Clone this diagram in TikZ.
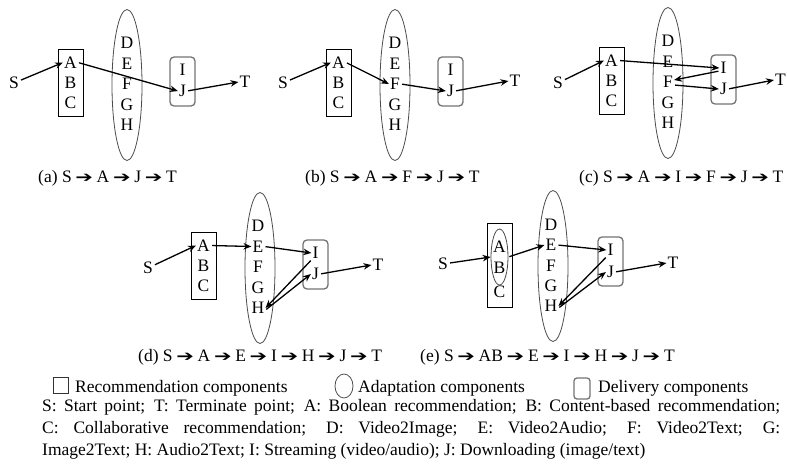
\documentclass[tikz,border=0pt]{standalone}
\usepackage{fontspec}
\setmainfont{Liberation Serif}
\newfontfamily\timesfont{Liberation Serif}
\newfontfamily\dingfont{DejaVu Sans}
\usetikzlibrary{shapes.geometric,arrows.meta}
\newcommand\patharrow{\makebox[25pt]{\dingfont\fontsize{15}{15}\selectfont\scalebox{1.4}[1]{➔}}}
\tikzset{
  lbl/.style={inner sep=1pt, font=\timesfont\fontsize{17.5}{20}\selectfont},
  captxt/.style={inner sep=0pt, anchor=base west, font=\timesfont\fontsize{17.5}{20}\selectfont},
  recbox/.style={draw=black, line width=0.8pt, minimum width=25pt, minimum height=67pt, inner sep=0pt},
  adabox/.style={ellipse, draw=black!70, line width=0.8pt, minimum width=30pt, minimum height=151pt, inner sep=0pt},
  delbox/.style={draw=black!55, line width=1.3pt, rounded corners=4pt, minimum width=25pt, minimum height=49pt, inner sep=0pt},
  flow/.style={-{Stealth[length=8pt,width=6.5pt]}, line width=1.3pt, shorten <=1pt}
}
\begin{document}
\begin{tikzpicture}[x=1pt, y=-1pt]
    \useasboundingbox (0,0) rectangle (787,464);
    % (a)
    \node[recbox] (a-rec) at (70.5,82.5) {};
    \node[adabox] (a-ada) at (127,85) {};
    \node[delbox] (a-del) at (182.5,81.5) {};
    \node[lbl] (a-S) at (14,83) {S};
    \node[lbl] (a-A) at (70.5,62.5) {A};
    \node[lbl] (a-B) at (70.5,82.5) {B};
    \node[lbl] (a-C) at (70.5,102.5) {C};
    \node[lbl] (a-D) at (127,43) {D};
    \node[lbl] (a-E) at (127,63.5) {E};
    \node[lbl] (a-F) at (127,84) {F};
    \node[lbl] (a-G) at (127,104.5) {G};
    \node[lbl] (a-H) at (127,125) {H};
    \node[lbl] (a-I) at (182.5,70) {I};
    \node[lbl] (a-J) at (182.5,91) {J};
    \node[lbl] (a-T) at (245,82) {T};
    \draw[flow] (a-S) -- (a-A.west);
    \draw[flow] (a-A.east) -- (a-J.west);
    \draw[flow] (a-J.east) -- (a-T.west);
    \node[captxt] (a-cap) at (38,182) {(a) S\patharrow A\patharrow J\patharrow T};
    % (b)
    \begin{scope}[shift={(268,0)}]
    \node[recbox] (b-rec) at (70.5,82.5) {};
    \node[adabox] (b-ada) at (127,85) {};
    \node[delbox] (b-del) at (182.5,81.5) {};
    \node[lbl] (b-S) at (15,83) {S};
    \node[lbl] (b-A) at (70.5,62.5) {A};
    \node[lbl] (b-B) at (70.5,82.5) {B};
    \node[lbl] (b-C) at (70.5,102.5) {C};
    \node[lbl] (b-D) at (127,43) {D};
    \node[lbl] (b-E) at (127,63.5) {E};
    \node[lbl] (b-F) at (127,84) {F};
    \node[lbl] (b-G) at (127,104.5) {G};
    \node[lbl] (b-H) at (127,125) {H};
    \node[lbl] (b-I) at (182.5,70) {I};
    \node[lbl] (b-J) at (182.5,91) {J};
    \node[lbl] (b-T) at (247,81) {T};
    \draw[flow] (b-S) -- (b-A.west);
    \draw[flow] (b-A.east) -- (b-F.west);
    \draw[flow] (b-F.east) -- (b-J.west);
    \draw[flow] (b-J.east) -- (b-T.west);
    \end{scope}
    \node[captxt] (b-cap) at (305,182) {(b) S\patharrow A\patharrow F\patharrow J\patharrow T};
    % (c)
    \begin{scope}[shift={(541,-2)}]
    \node[recbox] (c-rec) at (70.5,82.5) {};
    \node[adabox] (c-ada) at (127,85) {};
    \node[delbox] (c-del) at (182.5,81.5) {};
    \node[lbl] (c-S) at (17,85) {S};
    \node[lbl] (c-A) at (70.5,62.5) {A};
    \node[lbl] (c-B) at (70.5,82.5) {B};
    \node[lbl] (c-C) at (70.5,102.5) {C};
    \node[lbl] (c-D) at (127,43) {D};
    \node[lbl] (c-E) at (127,63.5) {E};
    \node[lbl] (c-F) at (127,84) {F};
    \node[lbl] (c-G) at (127,104.5) {G};
    \node[lbl] (c-H) at (127,125) {H};
    \node[lbl] (c-I) at (182.5,70) {I};
    \node[lbl] (c-J) at (182.5,91) {J};
    \node[lbl] (c-T) at (239.5,82) {T};
    \draw[flow] (c-S) -- (c-A.west);
    \draw[flow] (c-A.east) -- (c-I.west);
    \draw[flow] ([yshift=-3pt]c-I.west) -- ([yshift=2pt]c-F.east);
    \draw[flow] ([yshift=-3pt]c-F.east) -- (c-J.west);
    \draw[flow] (c-J.east) -- (c-T.west);
    \end{scope}
    \node[captxt] (c-cap) at (579,182) {(c) S\patharrow A\patharrow I\patharrow F\patharrow J\patharrow T};
    % (d)
    \begin{scope}[shift={(133,183)}]
    \node[recbox] (d-rec) at (70.5,82.5) {};
    \node[adabox] (d-ada) at (127,85) {};
    \node[delbox] (d-del) at (182.5,81.5) {};
    \node[lbl] (d-S) at (15,85) {S};
    \node[lbl] (d-A) at (70.5,62.5) {A};
    \node[lbl] (d-B) at (70.5,82.5) {B};
    \node[lbl] (d-C) at (70.5,102.5) {C};
    \node[lbl] (d-D) at (125,43) {D};
    \node[lbl] (d-E) at (125,63.5) {E};
    \node[lbl] (d-F) at (125,84) {F};
    \node[lbl] (d-G) at (125,104.5) {G};
    \node[lbl] (d-H) at (125,125) {H};
    \node[lbl] (d-I) at (182.5,70) {I};
    \node[lbl] (d-J) at (182.5,91) {J};
    \node[lbl] (d-T) at (245,82) {T};
    \draw[flow] (d-S) -- (d-A.west);
    \draw[flow] (d-A.east) -- (d-E.west);
    \draw[flow] (d-E.east) -- (d-I.west);
    \draw[flow] (d-I.south west) -- (d-H.east);
    \draw[flow] ([yshift=-2pt]d-H.east) -- (d-J.west);
    \draw[flow] (d-J.east) -- (d-T.west);
    \end{scope}
    \node[captxt] (d-cap) at (138,361) {(d) S\patharrow A\patharrow E\patharrow I\patharrow H\patharrow J\patharrow T};
    % (e)
    \begin{scope}[shift={(428,181)}]
    \node[recbox, minimum height=84pt] (e-rec) at (71.5,84) {};
    \node[ellipse, draw=black!70, line width=0.8pt, minimum width=17pt, minimum height=56pt, inner sep=0pt] (e-ab) at (71.5,76) {};
    \node[adabox] (e-ada) at (125,85) {};
    \node[delbox] (e-del) at (182.5,80.5) {};
    \node[lbl] (e-S) at (15,83) {S};
    \node[lbl] (e-A) at (71.5,66) {A};
    \node[lbl] (e-B) at (71.5,87) {B};
    \node[lbl] (e-C) at (71.5,111) {C};
    \node[lbl] (e-D) at (123,44) {D};
    \node[lbl] (e-E) at (123,64) {E};
    \node[lbl] (e-F) at (123,85) {F};
    \node[lbl] (e-G) at (123,105) {G};
    \node[lbl] (e-H) at (123,125) {H};
    \node[lbl] (e-I) at (182.5,69) {I};
    \node[lbl] (e-J) at (182.5,91) {J};
    \node[lbl] (e-T) at (245,82) {T};
    \draw[flow] (e-S) -- (e-ab.west);
    \draw[flow] (e-ab.east) -- (e-E.west);
    \draw[flow] (e-E.east) -- (e-I.west);
    \draw[flow] (e-I.south west) -- (e-H.east);
    \draw[flow] ([yshift=-2pt]e-H.east) -- (e-J.west);
    \draw[flow] (e-J.east) -- (e-T.west);
    \end{scope}
    \node[captxt] (e-cap) at (420,361) {(e) S\patharrow AB\patharrow E\patharrow I\patharrow H\patharrow J\patharrow T};
    % legend
    \node[draw=black!80, line width=0.8pt, minimum width=15pt, minimum height=16pt, inner sep=0pt] (lg-rec) at (60.5,385) {};
    \node[captxt] (lg-rectxt) at (75,392) {Recommendation components};
    \node[ellipse, draw=black!70, line width=0.8pt, minimum width=18pt, minimum height=24pt, inner sep=0pt] (lg-ada) at (344,386) {};
    \node[captxt] (lg-adatxt) at (358,392) {Adaptation components};
    \node[draw=black!55, line width=1.3pt, rounded corners=3pt, minimum width=16pt, minimum height=21pt, inner sep=0pt] (lg-del) at (582,388.5) {};
    \node[captxt] (lg-deltxt) at (598,392) {Delivery components};
    % key
    \node[inner sep=0pt, anchor=base west, text width=738pt, align=justify,
          font=\timesfont\fontsize{17.5}{22}\selectfont] (key) at (42,411)
      {S: Start point; T: Terminate point; A: Boolean recommendation; B: Content-based recommendation;\linebreak
       C: Collaborative recommendation; D: Video2Image; E: Video2Audio; F: Video2Text; G:\linebreak
       Image2Text; H: Audio2Text; I: Streaming (video/audio); J: Downloading (image/text)};
\end{tikzpicture}
\end{document}
